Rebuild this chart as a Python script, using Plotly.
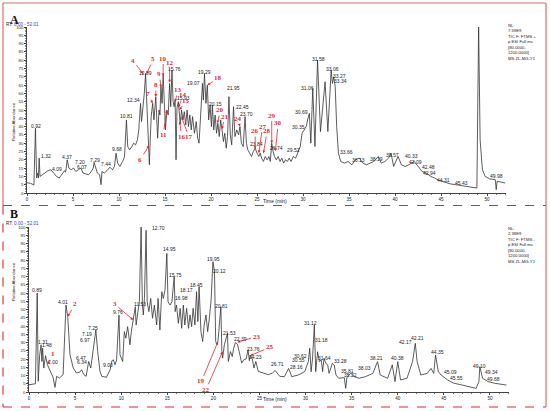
import plotly.graph_objects as go

# ---- chromatogram A (TIC, positive mode) ----
time_a = [0.0, 0.4, 0.75, 0.92, 1.05, 1.15, 1.25, 1.32, 1.42, 1.7, 2.0, 2.3, 2.6, 2.9, 3.2, 3.5, 3.8,
          4.09, 4.2, 4.37, 4.55, 4.8, 5.07, 5.3, 5.6, 5.85, 6.1, 6.4, 6.7, 7.0, 7.2, 7.29, 7.44, 7.65,
          7.9, 8.05, 8.15, 8.4, 8.7, 9.0, 9.3, 9.5, 9.68, 9.85, 10.1, 10.4, 10.6, 10.81, 10.95, 11.15,
          11.4, 11.6, 11.8, 12.0, 12.15, 12.34, 12.45, 12.6, 12.75, 12.89, 13.0, 13.1, 13.2, 13.3,
          13.4, 13.5, 13.66, 13.8, 14.0, 14.1, 14.2, 14.35, 14.45, 14.56, 14.68, 14.8, 14.92, 15.05,
          15.2, 15.35, 15.5, 15.62, 15.76, 15.88, 16.0, 16.1, 16.2, 16.3, 16.45, 16.56, 16.65, 16.8,
          16.95, 17.1, 17.25, 17.4, 17.55, 17.7, 17.85, 18.0, 18.2, 18.4, 18.55, 18.7, 18.85, 19.07,
          19.17, 19.29, 19.45, 19.6, 19.75, 19.9, 20.05, 20.15, 20.3, 20.45, 20.6, 20.75, 20.9, 21.05,
          21.2, 21.35, 21.5, 21.65, 21.8, 21.95, 22.1, 22.25, 22.45, 22.6, 22.8, 23.0, 23.15, 23.3,
          23.5, 23.7, 23.85, 24.0, 24.2, 24.4, 24.6, 24.8, 25.0, 25.2, 25.35, 25.5, 25.7, 25.9, 26.1,
          26.3, 26.45, 26.6, 26.75, 26.9, 27.1, 27.3, 27.5, 27.7, 27.9, 28.1, 28.3, 28.5, 28.7, 28.95,
          29.2, 29.45, 29.7, 29.9, 30.35, 30.5, 30.69, 30.85, 31.06, 31.3, 31.58, 31.9, 32.2, 32.4,
          32.7, 32.9, 33.06, 33.2, 33.34, 33.5, 33.66, 33.85, 34.1, 34.5, 34.9, 35.3, 35.7, 36.13,
          36.5, 36.9, 37.3, 37.7, 38.19, 38.5, 38.9, 39.3, 39.57, 39.85, 40.33, 40.7, 41.1, 41.5,
          42.09, 42.48, 42.94, 43.4, 43.9, 44.31, 44.8, 45.43, 46.0, 46.8, 47.6, 48.3, 48.9, 49.09,
          49.25, 49.5, 49.8, 50.3, 50.9, 51.0, 51.1, 51.6, 52.0]
abund_a = [6.2, 5.8, 4.8, 39, 9, 12, 9, 21, 10, 11, 12, 13.5, 14, 12, 10, 9, 11,
           13.5, 12.5, 20, 15, 14, 15, 13, 14, 15, 12, 11.5, 11, 13, 15, 18.5, 15, 12,
           11, 5, 13, 12, 13.5, 15.5, 14, 16, 24, 18, 16, 19, 22, 44, 28, 26,
           28, 30, 29, 32, 38, 54, 43, 50, 60, 72, 56, 40, 29, 17,
           33, 46, 54, 44, 58, 42, 33, 50, 47, 64, 54, 71, 49, 38,
           50, 47, 66, 52, 74, 55, 52, 56, 20, 51, 55, 49, 42, 50,
           44, 49, 41, 50, 40, 47, 38, 46, 36, 43, 33, 30, 44, 66,
           56, 72, 54, 65, 44, 53, 40, 53, 38, 47, 36, 42, 34, 44,
           38, 31, 36, 27, 34, 58, 35, 29, 52, 34, 38, 35, 40, 30,
           28, 46, 30, 26, 24, 22, 25, 27, 24, 22, 24, 21, 19, 22, 20,
           22, 19, 30, 25, 22, 20, 22, 19, 21, 18, 20, 19, 21, 19, 22,
           21, 24, 28, 36, 40, 44, 48, 30, 63, 28, 80, 37, 55, 67,
           37, 55, 74, 66, 70, 64, 40, 24, 19, 18, 19, 17, 20, 21,
           18, 17, 18, 19, 22, 18, 19, 21, 24, 16, 22, 17, 16, 17,
           19, 16, 13, 12, 10, 9, 7.5, 6.5, 5.5, 4.8, 4.2, 3.8, 3.0, 100,
           32, 14, 10, 8.5, 8, 2, 7, 6.5, 6.0]

# ---- chromatogram B (TIC, negative mode) ----
time_b = [0.0, 0.4, 0.7, 0.89, 1.0, 1.15, 1.31, 1.4, 1.48, 1.6, 1.8, 2.0, 2.3, 2.6, 2.82, 3.0, 3.3,
          3.7, 4.01, 4.2, 4.45, 4.8, 5.15, 5.5, 5.7, 5.95, 6.2, 6.34, 6.47, 6.7, 6.97, 7.19, 7.25,
          7.45, 7.7, 7.9, 8.4, 8.8, 9.0, 9.15, 9.33, 9.5, 9.76, 9.87, 10.16, 10.34, 10.5, 10.7,
          10.95, 11.1, 11.3, 11.53, 11.62, 11.8, 11.97, 12.16, 12.3, 12.4, 12.52, 12.7, 12.82, 13.0,
          13.2, 13.4, 13.6, 13.85, 14.0, 14.2, 14.4, 14.57, 14.75, 14.95, 15.08, 15.3, 15.5, 15.75,
          15.85, 16.0, 16.2, 16.4, 16.56, 16.74, 16.9, 17.1, 17.3, 17.46, 17.64, 17.8, 18.0, 18.17,
          18.32, 18.45, 18.65, 18.84, 19.0, 19.2, 19.38, 19.56, 19.74, 19.95, 20.12, 20.25, 20.4,
          20.5, 20.81, 20.92, 21.0, 21.19, 21.37, 21.53, 21.62, 21.85, 22.05, 22.2, 22.39, 22.6,
          22.8, 23.07, 23.3, 23.55, 23.76, 23.9, 24.0, 24.23, 24.4, 24.6, 24.87, 25.4, 25.96, 26.4,
          26.71, 27.2, 27.7, 28.16, 28.5, 29.2, 29.9, 30.3, 30.45, 30.6, 30.75, 30.95, 31.1, 31.3,
          31.5, 31.7, 31.85, 32.0, 32.2, 32.4, 32.55, 32.9, 33.1, 33.3, 33.6, 34.2, 34.35, 34.5,
          34.9, 35.3, 35.8, 36.5, 37.3, 37.8, 38.1, 38.9, 39.4, 39.7, 40.0, 40.3, 41.0, 41.6, 41.9,
          42.1, 42.5, 43.2, 43.6, 43.9, 44.1, 44.4, 44.7, 45.4, 46.1, 47.0, 47.9, 48.5, 48.8, 48.9,
          49.2, 49.8, 50.5, 51.8]
abund_b = [4.4, 4.5, 5, 60, 6.5, 22, 28.6, 18.5, 26.6, 14.5, 22, 16.5, 12.5, 9, 2.8, 9.5, 8.5,
           10.5, 52.7, 45.7, 22.5, 14.5, 11.5, 12, 13.5, 10.5, 9.5, 15, 18.5, 14.5, 26.6, 33, 37.6,
           24.5, 12.5, 9.5, 8.9, 13.5, 19, 19.5, 16.5, 19.5, 46.7, 22.5, 18.5, 36.6, 32.6, 39.6,
           28.6, 36.6, 43.7, 51.7, 40.6, 48.7, 54.7, 100, 52.7, 46.7, 56.7, 98, 54.7, 48.7,
           56.7, 44.7, 52.7, 40.6, 56.7, 37.6, 60.8, 56.7, 61.8, 84, 54.7, 52.7, 54.7, 70,
           48.7, 52.7, 41.6, 50.7, 38.6, 52.7, 40.6, 50.7, 38.6, 46.7, 39.6, 50.7, 40.6, 60.8,
           42.7, 63.8, 36.6, 30.6, 40.6, 46.7, 36.6, 44.7, 54.7, 79, 72.8, 30.6, 28.6,
           31, 51.7, 24.5, 20.5, 28.6, 32.6, 35.6, 18.5, 24.5, 21.5, 26.6, 30, 29,
           24.5, 17.5, 19.5, 20, 25.6, 19, 22.1, 20, 14.5, 18.5, 12.5, 11.5, 10.5, 11.5,
           13, 9.5, 9.3, 14.3, 9.3, 10.3, 12.3, 18.4, 26.5, 12.3, 20, 40.6, 12.3, 24.4,
           18.4, 19.4, 12.3, 20.4, 17.4, 16.4, 11.3, 17.4, 16.4, 10.3, 8.3, 8.7, 2.2, 9.3,
           11.3, 9.3, 8.3, 9.3, 11.3, 18.4, 10.3, 8.3, 16.4, 6.3, 18.4, 7.3, 8.3, 18.4, 29.5,
           18.4, 10.3, 11.3, 14.3, 11.3, 22.4, 12.3, 10.3, 7.3, 5.3, 4.2, 3.2, 2.2, 6.3, 15.4,
           8.3, 6.3, 5.3, 4.2]

# ---- retention-time labels: text, x (min), y (%) ----
rt_a = ["0.92", "1.32", "4.09", "4.37", "7.20", "6.07", "7.29", "7.44", "9.68", "10.81", "12.34",
        "12.89", "15.76", "15.93", "19.07", "19.29", "20.15", "21.95", "22.45", "23.70", "23.84",
        "26.74", "29.52", "30.35", "30.69", "31.06", "31.58", "33.06", "33.27", "33.34", "33.66",
        "36.13", "38.19", "39.57", "40.33", "42.09", "42.48", "42.94", "44.31", "45.43", "49.09", "49.98"]
rt_a_x = [0.98, 2.03, 3.3, 4.3, 5.76, 5.94, 7.43, 8.6, 9.75, 10.8, 11.6,
          12.86, 16.0, 17.0, 18.15, 19.3, 20.5, 22.4, 23.4, 23.9, 24.9,
          27.07, 28.95, 29.5, 29.86, 30.5, 31.7, 33.2, 34.0, 34.1, 34.75,
          36.0, 38.0, 39.7, 41.8, 42.2, 43.6, 43.8, 45.25, 47.25, 49.1, 51.05]
rt_a_y = [40.4, 22.3, 14.3, 21.9, 18.7, 15.9, 19.7, 17.3, 26.3, 46.2, 56,
          72.5, 75, 57, 66, 73, 53.6, 63, 52, 47.4, 29.5,
          27, 25.9, 40, 49, 63.5, 80.5, 74.5, 70.5, 67.5, 24.5,
          19.9, 20.3, 22.9, 22.3, 18.9, 15.9, 12.2, 7.8, 6.2, 101.8, 10.2]

rt_b = ["0.89", "1.31", "1.48", "2.00", "4.01", "6.47", "6.34", "7.19", "6.97", "7.25", "9.00",
        "9.76", "11.53", "12.16", "12.70", "14.95", "15.75", "16.98", "18.17", "18.45", "19.95",
        "20.12", "20.81", "21.53", "22.39", "23.76", "24.23", "26.71", "28.16", "30.55", "30.62",
        "31.12", "31.18", "31.64", "33.28", "35.81", "35.22", "38.03", "38.21", "40.38", "42.17",
        "42.21", "44.35", "45.09", "45.55", "49.10", "49.34", "49.68"]
rt_b_x = [0.9, 1.48, 1.9, 2.64, 3.72, 5.64, 5.8, 6.33, 6.1, 6.9, 8.6,
          9.7, 12.0, 12.1, 14.0, 15.2, 15.9, 16.55, 17.1, 18.2, 20.0,
          20.7, 20.9, 21.8, 22.9, 24.4, 24.6, 26.9, 29.0, 29.2, 29.5,
          30.5, 31.75, 32.0, 33.8, 34.5, 34.86, 36.4, 37.7, 40.0, 40.8,
          42.1, 44.3, 45.7, 46.4, 48.9, 50.2, 50.4]
rt_b_y = [61.8, 30.6, 28.2, 18.1, 54.3, 20.9, 18.1, 35, 31.6, 39, 16.5,
          48.7, 53.1, 101.6, 99.6, 86.5, 71.2, 57.1, 61.8, 64.8, 80.5,
          73.2, 52.3, 35.6, 32, 26.2, 21.5, 16.8, 15, 19.4, 22,
          41.6, 31.5, 20.8, 18.8, 12.7, 10.3, 14.8, 20.8, 20.4, 30.1,
          32.5, 24.4, 11.9, 8.7, 15.8, 12.3, 7.9]

# ---- numbered compounds: number, peak (x, y), label (x, y) ----
num_a = ["4", "5", "6", "7", "8", "9", "10", "11", "12", "13", "14", "15", "16", "17",
         "18", "20", "21", "24", "26", "27", "28", "29", "30"]
tip_a_x = [12.65, 13.0, 13.26, 13.66, 14.0, 14.56, 14.8, 15.2, 15.5, 16.1, 16.45, 16.56, 16.6, 16.8,
           19.6, 20.7, 21.2, 23.15, 24.8, 25.2, 25.7, 26.6, 27.0]
tip_a_y = [71.7, 71.7, 28.7, 54, 58, 63.6, 70.5, 50, 66.5, 55, 51.6, 50, 43, 46,
           65, 42, 38.5, 40, 26.5, 24, 24, 30, 25.3]
lab_a_x = [11.5, 13.7, 12.3, 13.2, 14.0, 14.4, 14.8, 14.8, 15.5, 16.4, 17.0, 17.3, 16.8, 17.6,
           20.8, 21.0, 21.5, 22.9, 24.8, 25.6, 26.1, 26.6, 27.3]
lab_a_y = [79.7, 80.7, 19.9, 59.6, 65, 71.7, 81, 35, 78.5, 62, 59, 55.6, 34, 33.5,
           69, 50, 46, 44.8, 37.3, 40, 37.3, 46.6, 42]

num_b = ["1", "2", "3", "19", "22", "23", "25"]
tip_b_x = [2.02, 4.2, 11.3, 20.5, 21.0, 22.6, 24.0]
tip_b_y = [16.9, 45.7, 43.7, 30.6, 24.5, 30.2, 22.1]
lab_b_x = [2.57, 5.0, 9.33, 18.7, 19.2, 24.7, 26.1]
lab_b_y = [22.9, 53.1, 53.1, 6.4, 1.4, 33.6, 27]

W, H = 550, 411
RED = "#e3262d"


def px(x):
    return x / W


def py(y):
    return 1 - y / H


fig = go.Figure()
fig.add_trace(go.Scatter(x=time_a, y=abund_a, mode="lines", xaxis="x", yaxis="y",
                         line=dict(color="#333333", width=0.8), showlegend=False, hoverinfo="skip"))
fig.add_trace(go.Scatter(x=time_b, y=abund_b, mode="lines", xaxis="x2", yaxis="y2",
                         line=dict(color="#333333", width=0.8), showlegend=False, hoverinfo="skip"))

ann = []
tiny = dict(family="Liberation Sans, Arial", size=5, color="#222")
for t, x, y in zip(rt_a, rt_a_x, rt_a_y):
    ann.append(dict(x=x, y=y, xref="x", yref="y", text=t, showarrow=False, font=tiny))
for t, x, y in zip(rt_b, rt_b_x, rt_b_y):
    ann.append(dict(x=x, y=y, xref="x2", yref="y2", text=t, showarrow=False, font=tiny))

rfont = dict(family="Liberation Serif, Times New Roman", size=7, color=RED)
for n, tx, ty, lx, ly in zip(num_a, tip_a_x, tip_a_y, lab_a_x, lab_a_y):
    ann.append(dict(x=tx, y=ty, xref="x", yref="y", ax=lx, ay=ly, axref="x", ayref="y",
                    text="<b>%s</b>" % n, font=rfont, showarrow=True, arrowhead=2, arrowsize=0.7,
                    arrowwidth=0.8, arrowcolor=RED, standoff=0, startstandoff=0))
for n, tx, ty, lx, ly in zip(num_b, tip_b_x, tip_b_y, lab_b_x, lab_b_y):
    ann.append(dict(x=tx, y=ty, xref="x2", yref="y2", ax=lx, ay=ly, axref="x2", ayref="y2",
                    text="<b>%s</b>" % n, font=rfont, showarrow=True, arrowhead=2, arrowsize=0.7,
                    arrowwidth=0.8, arrowcolor=RED, standoff=0, startstandoff=0))

# panel letters, headers, axis titles, NL blocks
for letter, top, nl in [("A", 0, "7.59E9<br>TIC F: FTMS +"), ("B", 203, "2.38E9<br>TIC F: FTMS -")]:
    ann.append(dict(x=px(8), y=py(top + 10.5), xref="paper", yref="paper", text="<b>%s</b>" % letter,
                    showarrow=False, xanchor="left", font=dict(family="Liberation Serif", size=12, color="#111")))
    ann.append(dict(x=px(4), y=py(top + 20), xref="paper", yref="paper",
                    text="RT: <span style='color:#3a3acc'>0.00 - 52.01</span>",
                    showarrow=False, xanchor="left", font=dict(family="Liberation Sans", size=4.6, color="#222")))
    ann.append(dict(x=px(9), y=py(top + 100), xref="paper", yref="paper", text="Relative Abundance",
                    textangle=-90, showarrow=False, font=dict(family="Liberation Sans", size=4.3, color="#222")))
    ann.append(dict(x=px(275), y=py(top + 201), xref="paper", yref="paper", text="Time (min)",
                    showarrow=False, font=dict(family="Liberation Sans", size=5, color="#222")))
    ann.append(dict(x=px(506), y=py(top + 21), xref="paper", yref="paper", xanchor="left", yanchor="top",
                    align="left", showarrow=False,
                    text="NL:<br>%s<br>p ESI Full ms<br>[80.0000-<br>1200.0000]<br>MS ZL-MG-Y1" % nl,
                    font=dict(family="Liberation Sans", size=4.2, color="#222")))

shapes = [
    dict(type="line", xref="paper", yref="paper", x0=px(3), x1=px(3), y0=py(205.5), y1=py(3),
         line=dict(color="#e36a6a", width=1.2)),
    dict(type="line", xref="paper", yref="paper", x0=px(3), x1=px(546), y0=py(3), y1=py(3),
         line=dict(color="#e36a6a", width=1.2)),
    dict(type="line", xref="paper", yref="paper", x0=px(546), x1=px(546), y0=py(3), y1=py(407),
         line=dict(color="#e36a6a", width=1.2)),
    dict(type="line", xref="paper", yref="paper", x0=px(3), x1=px(546), y0=py(205.5), y1=py(205.5),
         line=dict(color=RED, width=1.1, dash="dash")),
    dict(type="line", xref="paper", yref="paper", x0=px(3), x1=px(3), y0=py(205.5), y1=py(407),
         line=dict(color=RED, width=1.1, dash="dash")),
    dict(type="line", xref="paper", yref="paper", x0=px(3), x1=px(546), y0=py(407), y1=py(407),
         line=dict(color=RED, width=1.1, dash="dash")),
]

xa = dict(range=[0, 52.01], dtick=5, ticks="outside", ticklen=2, tickwidth=0.5, tickcolor="#444",
          showline=True, linecolor="#444", linewidth=0.6, showgrid=False, zeroline=False, automargin=False,
          tickfont=dict(family="Liberation Sans", size=4.6, color="#222"),
          minor=dict(dtick=1, ticks="outside", ticklen=1, tickcolor="#777"))
ya = dict(range=[0, 100], tickvals=list(range(0, 101, 5)), ticks="outside", ticklen=2, tickwidth=0.5,
          tickcolor="#444", showline=True, linecolor="#444", linewidth=0.6, showgrid=False,
          zeroline=False, automargin=False, tickfont=dict(family="Liberation Sans", size=4.3, color="#222"),
          minor=dict(dtick=1, ticks="outside", ticklen=1, tickcolor="#888"))

fig.update_layout(
    width=W, height=H, margin=dict(l=0, r=0, t=0, b=0, autoexpand=False),
    paper_bgcolor="white", plot_bgcolor="white",
    xaxis=dict(xa, domain=[px(27), px(505.5)], anchor="y"),
    yaxis=dict(ya, domain=[py(193), py(27)], anchor="x"),
    xaxis2=dict(xa, domain=[px(29), px(508.5)], anchor="y2"),
    yaxis2=dict(ya, domain=[py(392), py(227)], anchor="x2"),
    annotations=ann, shapes=shapes,
)

fig.write_html("out.html", config={"displayModeBar": False},
               post_script="document.body.style.margin='0';")
